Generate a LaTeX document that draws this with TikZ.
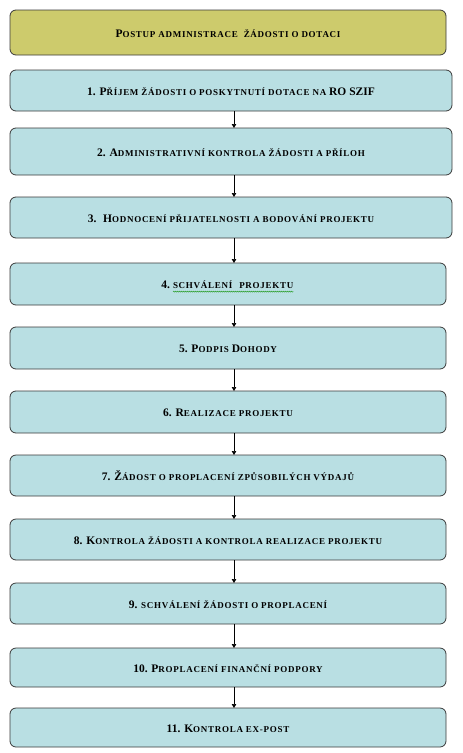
\documentclass[tikz,border=0pt]{standalone}
\usepackage{fontspec}
\setmainfont{Liberation Serif}
\usetikzlibrary{arrows.meta,decorations.pathmorphing}
\definecolor{olivebox}{HTML}{CDCB6C}
\definecolor{bluebox}{HTML}{B9DFE3}
\definecolor{boxline}{HTML}{3A3A3A}
\definecolor{spellgreen}{HTML}{2EA02E}
\newcommand\sk[1]{{\fontsize{9}{10}\selectfont\addfontfeature{LetterSpace=8}#1}}
\tikzset{
  stepbox/.style={draw=boxline, line width=0.8pt, rounded corners=6pt, fill=bluebox,
    inner sep=0pt, outer sep=0pt, font=\bfseries\fontsize{11.5}{12}\selectfont,
    text height=9.6pt, text depth=0pt, align=center},
  titlebox/.style={stepbox, fill=olivebox},
  plaintext/.style={inner sep=0pt, outer sep=0pt, font=\bfseries\fontsize{11.5}{12}\selectfont},
  arr/.style={line width=0.6pt, -{Triangle[length=4pt,width=4.5pt]}}
}
\begin{document}
\begin{tikzpicture}[x=1pt,y=-1pt]
\useasboundingbox (0,0) rectangle (463,753);
\coordinate (ax) at (234,0);
\node[titlebox, minimum width=436pt, minimum height=45pt] (t) at (228,32.5) {P\sk{OSTUP ADMINISTRACE \ ŽÁDOSTI O DOTACI}};
\node[stepbox, minimum width=442pt, minimum height=41pt] (b1) at (231,90.5) {1. P\sk{ŘÍJEM ŽÁDOSTI O POSKYTNUTÍ DOTACE NA} RO SZIF};
\node[stepbox, minimum width=442pt, minimum height=47pt] (b2) at (231,151.5) {2. A\sk{DMINISTRATIVNÍ KONTROLA ŽÁDOSTI A PŘÍLOH}};
\node[stepbox, minimum width=442pt, minimum height=41pt] (b3) at (231,217.5) {3. \ H\sk{ODNOCENÍ PŘIJATELNOSTI A BODOVÁNÍ PROJEKTU}};
\node[stepbox, minimum width=436pt, minimum height=42pt] (b4) at (228,284) {};
\node[plaintext, anchor=base west] (b4w) at ([xshift=-55pt,yshift=-4.8pt]b4.center) {\sk{SCHVÁLENÍ\hspace{7pt}PROJEKTU}};
\node[plaintext, anchor=base east] (b4n) at ([xshift=-3pt]b4w.base west) {4.};
\draw[spellgreen, line width=0.45pt, decorate, decoration={snake, amplitude=0.5pt, segment length=2pt}]
  ([yshift=-2.8pt]b4w.base west) -- ([yshift=-2.8pt]b4w.base east);
\node[stepbox, minimum width=436pt, minimum height=42pt] (b5) at (228,348) {5. P\sk{ODPIS} D\sk{OHODY}};
\node[stepbox, minimum width=436pt, minimum height=42pt] (b6) at (228,412) {6. R\sk{EALIZACE PROJEKTU}};
\node[stepbox, minimum width=436pt, minimum height=41pt] (b7) at (228,475.5) {7. Ž\sk{ÁDOST O PROPLACENÍ ZPŮSOBILÝCH VÝDAJŮ}};
\node[stepbox, minimum width=436pt, minimum height=41pt] (b8) at (228,539.5) {8. K\sk{ONTROLA ŽÁDOSTI A KONTROLA REALIZACE PROJEKTU}};
\node[stepbox, minimum width=436pt, minimum height=41pt] (b9) at (228,603.5) {9. \sk{SCHVÁLENÍ ŽÁDOSTI O PROPLACENÍ}};
\node[stepbox, minimum width=436pt, minimum height=39pt] (b10) at (228,667.5) {10. P\sk{ROPLACENÍ FINANČNÍ PODPORY}};
\node[stepbox, minimum width=436pt, minimum height=39pt] (b11) at (228,727.5) {11. K\sk{ONTROLA EX-POST}};
\foreach \a/\b in {b1/b2,b2/b3,b3/b4,b4/b5,b5/b6,b6/b7,b7/b8,b8/b9,b9/b10,b10/b11}
  \draw[arr] (\a.south -| ax) -- (\b.north -| ax);
\end{tikzpicture}
\end{document}
